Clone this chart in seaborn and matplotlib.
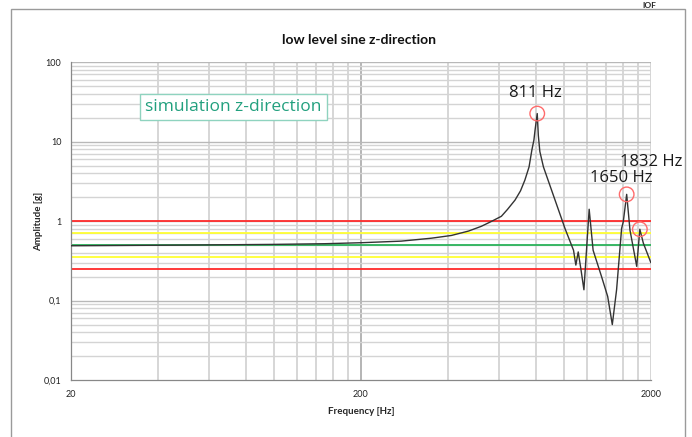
import numpy as np
import pandas as pd
import matplotlib
matplotlib.use("Agg")
import matplotlib.pyplot as plt
from matplotlib.patches import Rectangle
import seaborn as sns

freq = [20, 50, 100, 150, 200, 275, 350, 410, 470, 520, 560, 610, 640, 680, 710, 735, 760,
        777, 790, 797, 811, 818, 828, 852, 1012, 1082, 1102, 1123, 1148,
        1175, 1225, 1264, 1352, 1419, 1472, 1523, 1585, 1606, 1650, 1694, 1787, 1832,
        1883, 2000]
amp = [0.49, 0.50, 0.51, 0.52, 0.535, 0.56, 0.61, 0.66, 0.75, 0.86, 0.98, 1.15, 1.4, 1.84,
       2.4, 3.27, 4.8, 7.8, 10.5, 13.9, 22.5, 12.0, 7.5, 4.8, 0.8, 0.43,
       0.28, 0.41, 0.245, 0.137, 1.41, 0.43, 0.2, 0.113, 0.05, 0.137, 0.81, 0.98, 2.17,
       0.77, 0.27, 0.79, 0.53, 0.30]

# marked resonances
peak_freq = [811, 1650, 1832]
peak_amp = [22.5, 2.17, 0.79]
peak_labels = ["811 Hz", "1650 Hz", "1832 Hz"]

# tolerance lines: nominal, +-3 dB, +-6 dB
ref_levels = [1.0, 0.707, 0.5, 0.354, 0.25]
ref_colors = ["#ff2a2a", "#ffff33", "#2bb35a", "#ffff33", "#ff2a2a"]

x_ticks = [20, 200, 2000]
y_ticks = [0.01, 0.1, 1, 10, 100]
y_tick_labels = ["0,01", "0,1", "1", "10", "100"]

df = pd.DataFrame({"Frequency": freq, "Amplitude": amp})
peaks = pd.DataFrame({"Frequency": peak_freq, "Amplitude": peak_amp})

sns.set_theme(style="white")
plt.rcParams["font.family"] = ["Lato", "DejaVu Sans"]

fig = plt.figure(figsize=(6.92, 4.37), dpi=100)
ax = fig.add_axes([0.1026, 0.130, 0.838, 0.728])

# outer chart frame (bottom edge lies outside the picture)
fig.patches.append(Rectangle((11 / 692, -0.1), (685 - 11) / 692, 1.1 - 9 / 437,
                             transform=fig.transFigure, fill=False,
                             edgecolor="#9a9a9a", linewidth=1.0))

ax.set_xscale("log")
ax.set_yscale("log")
ax.set_xlim(20, 2000)
ax.set_ylim(0.01, 100)

# grid
x_minor = list(range(40, 200, 20)) + list(range(400, 2000, 200))
for xv in x_minor:
    ax.axvline(xv, color="#cccccc", lw=1.1, zorder=0)
ax.axvline(200, color="#a0a0a0", lw=1.1, zorder=0)
ax.axvline(2000, color="#cccccc", lw=1.1, zorder=0)
for dec in [0.01, 0.1, 1, 10]:
    for m in range(2, 10):
        ax.axhline(dec * m, color="#d4d4d4", lw=1.0, zorder=0)
for yv in [0.1, 1, 10, 100]:
    ax.axhline(yv, color="#b8b8b8", lw=1.0, zorder=0)

for lvl, col in zip(ref_levels, ref_colors):
    ax.axhline(lvl, color=col, lw=1.3, zorder=1)

sns.lineplot(data=df, x="Frequency", y="Amplitude", ax=ax, color="#333333",
             lw=1.0, zorder=3, legend=False)
sns.scatterplot(data=peaks, x="Frequency", y="Amplitude", ax=ax, s=110,
                facecolor="none", edgecolor="#ff6b6b", linewidth=1.0, zorder=4,
                legend=False)

label_pos = [(800, 32), (1577, 2.8), (2000, 4.4)]
for (lx, ly), txt in zip(label_pos, peak_labels):
    ax.text(lx, ly, txt, fontsize=12, family="Open Sans", color="#1a1a1a",
            ha="center", va="bottom", clip_on=False)

ax.text(0.128, 0.858, "simulation z-direction", transform=ax.transAxes,
        fontsize=12.5, family="Open Sans", color="#22a07e", ha="left", va="center",
        bbox=dict(boxstyle="square,pad=0.3", facecolor="white",
                  edgecolor="#8fd3bf", linewidth=1.0), zorder=5)

ax.set_xticks(x_ticks)
ax.set_xticklabels([str(v) for v in x_ticks])
ax.set_xticks([], minor=True)
ax.set_yticks(y_ticks)
ax.set_yticklabels(y_tick_labels)
ax.set_yticks([], minor=True)
ax.tick_params(axis="both", which="major", labelsize=6.5, length=4, width=0.8,
               color="#888888", direction="out", labelcolor="#222222")
ax.tick_params(axis="x", pad=3)
ax.tick_params(axis="y", pad=3)

for side in ["top", "right"]:
    ax.spines[side].set_visible(False)
for side in ["left", "bottom"]:
    ax.spines[side].set_color("#888888")
    ax.spines[side].set_linewidth(0.9)

ax.set_xlabel("Frequency [Hz]", fontsize=7, fontweight="bold", labelpad=6)
ax.set_ylabel("Amplitude [g]", fontsize=7, fontweight="bold", labelpad=0)

fig.text(0.519, 1 - 40 / 437, "low level sine z-direction", fontsize=10,
         fontweight="bold", ha="center", va="center", color="#111111")
fig.text(649 / 692, 1 - 5 / 437, "IOF", fontsize=6, fontweight="bold",
         ha="center", va="center", color="#222222")

fig.savefig("out.png", dpi=100)
